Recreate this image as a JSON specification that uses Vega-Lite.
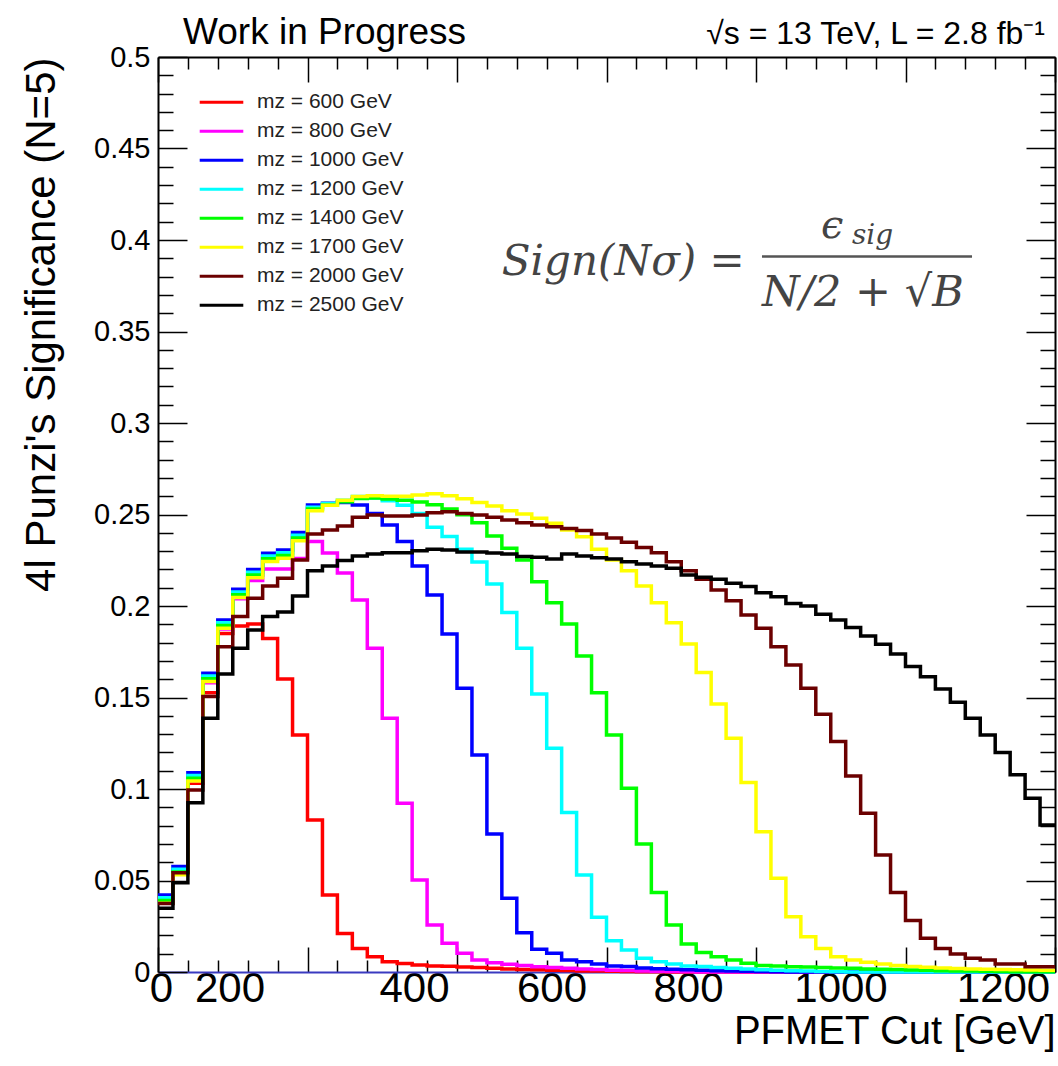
{
  "$schema": "https://vega.github.io/schema/vega-lite/v6.json",
  "width": 897,
  "height": 915,
  "autosize": {"type": "none"},
  "padding": {"left": 158, "top": 57, "right": 3, "bottom": 94},
  "background": "white",
  "config": {"view": {"stroke": null}, "font": "Liberation Sans"},
  "datasets": {
    "hist": [
      {"x": 0, "600": 0.0384, "800": 0.0395, "1000": 0.0421, "1200": 0.0406, "1400": 0.0391, "1700": 0.0376, "2000": 0.0375, "2500": 0.0348},
      {"x": 20, "600": 0.0548, "800": 0.0552, "1000": 0.0576, "1200": 0.0561, "1400": 0.0546, "1700": 0.0531, "2000": 0.0543, "2500": 0.0488},
      {"x": 40, "600": 0.1031, "800": 0.1045, "1000": 0.1089, "1200": 0.1074, "1400": 0.1059, "1700": 0.1044, "2000": 0.0995, "2500": 0.0925},
      {"x": 60, "600": 0.1526, "800": 0.1580, "1000": 0.1632, "1200": 0.1617, "1400": 0.1602, "1700": 0.1587, "2000": 0.1505, "2500": 0.1386},
      {"x": 80, "600": 0.1850, "800": 0.1875, "1000": 0.1923, "1200": 0.1908, "1400": 0.1893, "1700": 0.1878, "2000": 0.1778, "2500": 0.1628},
      {"x": 100, "600": 0.1891, "800": 0.2040, "1000": 0.2091, "1200": 0.2076, "1400": 0.2061, "1700": 0.2046, "2000": 0.1942, "2500": 0.1769},
      {"x": 120, "600": 0.1902, "800": 0.2140, "1000": 0.2200, "1200": 0.2185, "1400": 0.2170, "1700": 0.2155, "2000": 0.2042, "2500": 0.1869},
      {"x": 140, "600": 0.1823, "800": 0.2202, "1000": 0.2288, "1200": 0.2273, "1400": 0.2258, "1700": 0.2243, "2000": 0.2109, "2500": 0.1942},
      {"x": 160, "600": 0.1601, "800": 0.2202, "1000": 0.2306, "1200": 0.2291, "1400": 0.2276, "1700": 0.2261, "2000": 0.2151, "2500": 0.1967},
      {"x": 180, "600": 0.1295, "800": 0.2260, "1000": 0.2401, "1200": 0.2386, "1400": 0.2371, "1700": 0.2356, "2000": 0.2251, "2500": 0.2055},
      {"x": 200, "600": 0.0831, "800": 0.2352, "1000": 0.2552, "1200": 0.2540, "1400": 0.2530, "1700": 0.2520, "2000": 0.2393, "2500": 0.2193},
      {"x": 220, "600": 0.0421, "800": 0.2290, "1000": 0.2561, "1200": 0.2560, "1400": 0.2552, "1700": 0.2550, "2000": 0.2415, "2500": 0.2219},
      {"x": 240, "600": 0.0211, "800": 0.2180, "1000": 0.2565, "1200": 0.2578, "1400": 0.2570, "1700": 0.2578, "2000": 0.2437, "2500": 0.2248},
      {"x": 260, "600": 0.0129, "800": 0.2033, "1000": 0.2552, "1200": 0.2598, "1400": 0.2588, "1700": 0.2598, "2000": 0.2485, "2500": 0.2273},
      {"x": 280, "600": 0.0084, "800": 0.1769, "1000": 0.2506, "1200": 0.2590, "1400": 0.2590, "1700": 0.2602, "2000": 0.2497, "2500": 0.2284},
      {"x": 300, "600": 0.0056, "800": 0.1386, "1000": 0.2443, "1200": 0.2575, "1400": 0.2585, "1700": 0.2600, "2000": 0.2492, "2500": 0.2291},
      {"x": 320, "600": 0.0047, "800": 0.0922, "1000": 0.2352, "1200": 0.2550, "1400": 0.2578, "1700": 0.2600, "2000": 0.2492, "2500": 0.2291},
      {"x": 340, "600": 0.0038, "800": 0.0503, "1000": 0.2219, "1200": 0.2505, "1400": 0.2568, "1700": 0.2606, "2000": 0.2497, "2500": 0.2302},
      {"x": 360, "600": 0.0033, "800": 0.0257, "1000": 0.2060, "1200": 0.2430, "1400": 0.2553, "1700": 0.2614, "2000": 0.2510, "2500": 0.2310},
      {"x": 380, "600": 0.0031, "800": 0.0157, "1000": 0.1847, "1200": 0.2380, "1400": 0.2530, "1700": 0.2602, "2000": 0.2515, "2500": 0.2306},
      {"x": 400, "600": 0.0028, "800": 0.0102, "1000": 0.1550, "1200": 0.2310, "1400": 0.2498, "1700": 0.2586, "2000": 0.2506, "2500": 0.2295},
      {"x": 420, "600": 0.0024, "800": 0.0066, "1000": 0.1186, "1200": 0.2240, "1400": 0.2455, "1700": 0.2566, "2000": 0.2497, "2500": 0.2295},
      {"x": 440, "600": 0.0020, "800": 0.0051, "1000": 0.0754, "1200": 0.2120, "1400": 0.2383, "1700": 0.2546, "2000": 0.2485, "2500": 0.2290},
      {"x": 460, "600": 0.0017, "800": 0.0042, "1000": 0.0403, "1200": 0.1964, "1400": 0.2315, "1700": 0.2521, "2000": 0.2470, "2500": 0.2284},
      {"x": 480, "600": 0.0014, "800": 0.0035, "1000": 0.0215, "1200": 0.1769, "1400": 0.2251, "1700": 0.2503, "2000": 0.2455, "2500": 0.2270},
      {"x": 500, "600": 0.0012, "800": 0.0029, "1000": 0.0124, "1200": 0.1519, "1400": 0.2133, "1700": 0.2479, "2000": 0.2443, "2500": 0.2266},
      {"x": 520, "600": 0.0010, "800": 0.0024, "1000": 0.0102, "1200": 0.1222, "1400": 0.2018, "1700": 0.2452, "2000": 0.2433, "2500": 0.2257},
      {"x": 540, "600": 0.0008, "800": 0.0020, "1000": 0.0066, "1200": 0.0871, "1400": 0.1902, "1700": 0.2415, "2000": 0.2424, "2500": 0.2284},
      {"x": 560, "600": 0.0006, "800": 0.0016, "1000": 0.0056, "1200": 0.0530, "1400": 0.1727, "1700": 0.2379, "2000": 0.2412, "2500": 0.2273},
      {"x": 580, "600": 0.0005, "800": 0.0013, "1000": 0.0044, "1200": 0.0299, "1400": 0.1526, "1700": 0.2310, "2000": 0.2393, "2500": 0.2264},
      {"x": 600, "600": 0.0004, "800": 0.0010, "1000": 0.0033, "1200": 0.0171, "1400": 0.1295, "1700": 0.2251, "2000": 0.2372, "2500": 0.2257},
      {"x": 620, "600": 0.0003, "800": 0.0008, "1000": 0.0030, "1200": 0.0120, "1400": 0.1004, "1700": 0.2193, "2000": 0.2348, "2500": 0.2242},
      {"x": 640, "600": 0.0002, "800": 0.0006, "1000": 0.0022, "1200": 0.0075, "1400": 0.0699, "1700": 0.2109, "2000": 0.2319, "2500": 0.2229},
      {"x": 660, "600": 0.0001, "800": 0.0004, "1000": 0.0018, "1200": 0.0056, "1400": 0.0434, "1700": 0.2018, "2000": 0.2291, "2500": 0.2219},
      {"x": 680, "600": 0, "800": 0.0003, "1000": 0.0015, "1200": 0.0044, "1400": 0.0257, "1700": 0.1909, "2000": 0.2242, "2500": 0.2206},
      {"x": 700, "600": 0, "800": 0.0002, "1000": 0.0012, "1200": 0.0033, "1400": 0.0153, "1700": 0.1792, "2000": 0.2193, "2500": 0.2170},
      {"x": 720, "600": 0, "800": 0, "1000": 0.0009, "1200": 0.0030, "1400": 0.0106, "1700": 0.1636, "2000": 0.2146, "2500": 0.2157},
      {"x": 740, "600": 0, "800": 0, "1000": 0.0007, "1200": 0.0025, "1400": 0.0084, "1700": 0.1464, "2000": 0.2087, "2500": 0.2146},
      {"x": 760, "600": 0, "800": 0, "1000": 0.0005, "1200": 0.0020, "1400": 0.0066, "1700": 0.1277, "2000": 0.2029, "2500": 0.2124},
      {"x": 780, "600": 0, "800": 0, "1000": 0.0004, "1200": 0.0016, "1400": 0.0048, "1700": 0.1035, "2000": 0.1951, "2500": 0.2106},
      {"x": 800, "600": 0, "800": 0, "1000": 0.0003, "1200": 0.0012, "1400": 0.0036, "1700": 0.0767, "2000": 0.1878, "2500": 0.2073},
      {"x": 820, "600": 0, "800": 0, "1000": 0.0002, "1200": 0.0009, "1400": 0.0033, "1700": 0.0512, "2000": 0.1778, "2500": 0.2051},
      {"x": 840, "600": 0, "800": 0, "1000": 0, "1200": 0.0007, "1400": 0.0029, "1700": 0.0302, "2000": 0.1678, "2500": 0.2014},
      {"x": 860, "600": 0, "800": 0, "1000": 0, "1200": 0.0005, "1400": 0.0027, "1700": 0.0193, "2000": 0.1550, "2500": 0.2000},
      {"x": 880, "600": 0, "800": 0, "1000": 0, "1200": 0.0003, "1400": 0.0025, "1700": 0.0129, "2000": 0.1408, "2500": 0.1955},
      {"x": 900, "600": 0, "800": 0, "1000": 0, "1200": 0.0002, "1400": 0.0022, "1700": 0.0084, "2000": 0.1259, "2500": 0.1923},
      {"x": 920, "600": 0, "800": 0, "1000": 0, "1200": 0, "1400": 0.0020, "1700": 0.0066, "2000": 0.1071, "2500": 0.1882},
      {"x": 940, "600": 0, "800": 0, "1000": 0, "1200": 0, "1400": 0.0017, "1700": 0.0053, "2000": 0.0867, "2500": 0.1836},
      {"x": 960, "600": 0, "800": 0, "1000": 0, "1200": 0, "1400": 0.0015, "1700": 0.0044, "2000": 0.0639, "2500": 0.1791},
      {"x": 980, "600": 0, "800": 0, "1000": 0, "1200": 0, "1400": 0.0013, "1700": 0.0036, "2000": 0.0434, "2500": 0.1738},
      {"x": 1000, "600": 0, "800": 0, "1000": 0, "1200": 0, "1400": 0.0011, "1700": 0.0030, "2000": 0.0281, "2500": 0.1669},
      {"x": 1020, "600": 0, "800": 0, "1000": 0, "1200": 0, "1400": 0.0009, "1700": 0.0026, "2000": 0.0184, "2500": 0.1614},
      {"x": 1040, "600": 0, "800": 0, "1000": 0, "1200": 0, "1400": 0.0007, "1700": 0.0022, "2000": 0.0129, "2500": 0.1546},
      {"x": 1060, "600": 0, "800": 0, "1000": 0, "1200": 0, "1400": 0.0006, "1700": 0.0019, "2000": 0.0098, "2500": 0.1474},
      {"x": 1080, "600": 0, "800": 0, "1000": 0, "1200": 0, "1400": 0.0005, "1700": 0.0017, "2000": 0.0075, "2500": 0.1386},
      {"x": 1100, "600": 0, "800": 0, "1000": 0, "1200": 0, "1400": 0.0004, "1700": 0.0015, "2000": 0.0066, "2500": 0.1295},
      {"x": 1120, "600": 0, "800": 0, "1000": 0, "1200": 0, "1400": 0.0003, "1700": 0.0013, "2000": 0.0044, "2500": 0.1199},
      {"x": 1140, "600": 0, "800": 0, "1000": 0, "1200": 0, "1400": 0.0002, "1700": 0.0012, "2000": 0.0044, "2500": 0.1078},
      {"x": 1160, "600": 0, "800": 0, "1000": 0, "1200": 0, "1400": 0.0002, "1700": 0.0011, "2000": 0.0029, "2500": 0.0949},
      {"x": 1180, "600": 0, "800": 0, "1000": 0, "1200": 0, "1400": 0.0001, "1700": 0.0010, "2000": 0.0029, "2500": 0.0803},
      {"x": 1200, "600": 0, "800": 0, "1000": 0, "1200": 0, "1400": 0.0001, "1700": 0.0010, "2000": 0.0029, "2500": 0.0803}
    ]
  },
  "layer": [
    {
      "data": {"name": "hist"},
      "transform": [{"fold": ["600", "800", "1000", "1200", "1400", "1700", "2000", "2500"], "as": ["mass", "v"]}],
      "mark": {"type": "line", "interpolate": "step-after", "strokeWidth": 3.5, "strokeJoin": "miter", "strokeCap": "butt"},
      "encoding": {
        "x": {"field": "x", "type": "quantitative", "scale": {"domain": [0, 1200], "nice": false, "zero": false},
          "axis": {"orient": "bottom", "values": [0,40,80,120,160,200,240,280,320,360,400,440,480,520,560,600,640,680,720,760,800,840,880,920,960,1000,1040,1080,1120,1160,1200],
            "tickSize": {"condition": {"test": "datum.value % 200 === 0", "value": -25}, "value": -12},
            "tickColor": "black", "tickWidth": 1.5,
            "labelExpr": "datum.value % 200 === 0 ? format(datum.value, 'd') : ''",
            "labelOffset": {"condition": [{"test": "datum.value === 200", "value": -78}, {"test": "datum.value === 400", "value": -43}, {"test": "datum.value === 600", "value": -55}, {"test": "datum.value === 800", "value": -68}, {"test": "datum.value === 1000", "value": -65}, {"test": "datum.value === 1200", "value": -52}], "value": 3},
            "labelFontSize": 42, "labelFont": "Liberation Sans", "labelColor": "black", "labelPadding": 21, "labelFlush": false, "labelOverlap": false, "labelBound": false,
            "domainColor": "#3a3ac0", "domainWidth": 2, "grid": false,
            "title": "PFMET Cut [GeV]", "titleAnchor": "end", "titleFontSize": 40, "titleFontWeight": "normal", "titleFont": "Liberation Sans", "titleColor": "black", "titlePadding": -11}},
        "y": {"field": "v", "type": "quantitative", "scale": {"domain": [0, 0.5], "nice": false, "zero": true},
          "axis": {"orient": "left", "values": [0,0.01,0.02,0.03,0.04,0.05,0.06,0.07,0.08,0.09,0.1,0.11,0.12,0.13,0.14,0.15,0.16,0.17,0.18,0.19,0.2,0.21,0.22,0.23,0.24,0.25,0.26,0.27,0.28,0.29,0.3,0.31,0.32,0.33,0.34,0.35,0.36,0.37,0.38,0.39,0.4,0.41,0.42,0.43,0.44,0.45,0.46,0.47,0.48,0.49,0.5],
            "tickSize": {"condition": {"test": "round(datum.value*100) % 5 === 0", "value": -29}, "value": -15},
            "tickColor": "black", "tickWidth": 1.5,
            "labelExpr": "round(datum.value*100) % 5 === 0 ? format(datum.value, '~g') : ''",
            "labelFontSize": 29, "labelFont": "Liberation Sans", "labelColor": "black", "labelPadding": 37, "labelFlush": false, "labelOverlap": false, "labelBound": false,
            "domainColor": "black", "domainWidth": 2, "grid": false,
            "title": "4l Punzi's Significance (N=5)", "titleAnchor": "end", "titleFontSize": 42, "titleFontWeight": "normal", "titleFont": "Liberation Sans", "titleColor": "black", "titlePadding": 30}},
        "color": {"field": "mass", "type": "nominal",
          "scale": {"domain": ["600", "800", "1000", "1200", "1400", "1700", "2000", "2500"], "range": ["#ff0000", "#ff00ff", "#0000ff", "#00ffff", "#00ff00", "#ffff00", "#6b0000", "#000000"]},
          "legend": {"orient": "none", "legendX": 40, "legendY": 31, "title": null, "symbolType": "stroke", "symbolSize": 1900, "symbolStrokeWidth": 3, "labelFontSize": 21, "labelFont": "Liberation Sans", "labelColor": "#222", "labelOffset": 12, "rowPadding": 0, "clipHeight": 28.3,
            "labelExpr": "'mᴢ = ' + datum.label + ' GeV'"}}
      }
    },
    {
      "data": {"name": "hist"},
      "transform": [{"fold": ["2500"], "as": ["mass", "v"]}],
      "mark": {"type": "line", "strokeOpacity": 0},
      "encoding": {
        "x": {"field": "x", "type": "quantitative",
          "axis": {"orient": "top", "values": [0,40,80,120,160,200,240,280,320,360,400,440,480,520,560,600,640,680,720,760,800,840,880,920,960,1000,1040,1080,1120,1160,1200],
            "tickSize": {"condition": {"test": "datum.value % 200 === 0", "value": -25}, "value": -12},
            "tickColor": "black", "tickWidth": 1.5, "labels": false, "domainColor": "black", "domainWidth": 2, "grid": false, "title": null}},
        "y": {"field": "v", "type": "quantitative",
          "axis": {"orient": "right", "values": [0,0.01,0.02,0.03,0.04,0.05,0.06,0.07,0.08,0.09,0.1,0.11,0.12,0.13,0.14,0.15,0.16,0.17,0.18,0.19,0.2,0.21,0.22,0.23,0.24,0.25,0.26,0.27,0.28,0.29,0.3,0.31,0.32,0.33,0.34,0.35,0.36,0.37,0.38,0.39,0.4,0.41,0.42,0.43,0.44,0.45,0.46,0.47,0.48,0.49,0.5],
            "tickSize": {"condition": {"test": "round(datum.value*100) % 5 === 0", "value": -29}, "value": -15},
            "tickColor": "black", "tickWidth": 1.5, "labels": false, "domainColor": "black", "domainWidth": 2, "grid": false, "title": null}}
      }
    },
    {
      "data": {"values": [{"label": "Work in Progress"}]},
      "mark": {"type": "text", "align": "left", "baseline": "alphabetic", "fontSize": 37, "font": "Liberation Sans", "color": "black", "dx": 25, "dy": -13},
      "encoding": {
        "x": {"datum": 0, "type": "quantitative", "axis": null},
        "y": {"datum": 0.5, "type": "quantitative", "axis": null},
        "text": {"field": "label"}
      }
    },
    {
      "data": {"values": [{"label": "√s = 13 TeV, L = 2.8 fb⁻¹"}]},
      "mark": {"type": "text", "align": "right", "baseline": "alphabetic", "fontSize": 32, "font": "Liberation Sans", "color": "black", "dx": -10, "dy": -13},
      "encoding": {
        "x": {"datum": 1200, "type": "quantitative", "axis": null},
        "y": {"datum": 0.5, "type": "quantitative", "axis": null},
        "text": {"field": "label"}
      }
    },
    {
      "data": {"values": [{"part": "Sign(Nσ) ="}]},
      "mark": {"type": "text", "align": "left", "baseline": "middle", "fontSize": 42, "font": "DejaVu Serif", "fontStyle": "italic", "color": "#444"},
      "encoding": {
        "x": {"datum": 460, "type": "quantitative", "axis": null},
        "y": {"datum": 0.388, "type": "quantitative", "axis": null},
        "text": {"field": "part"}
      }
    },
    {
      "data": {"values": [{"part": "ϵ"}]},
      "mark": {"type": "text", "align": "center", "baseline": "middle", "fontSize": 40, "font": "DejaVu Serif", "fontStyle": "italic", "color": "#444"},
      "encoding": {
        "x": {"datum": 902, "type": "quantitative", "axis": null},
        "y": {"datum": 0.4075, "type": "quantitative", "axis": null},
        "text": {"field": "part"}
      }
    },
    {
      "data": {"values": [{"part": "sig"}]},
      "mark": {"type": "text", "align": "center", "baseline": "middle", "fontSize": 28, "font": "DejaVu Serif", "fontStyle": "italic", "color": "#444"},
      "encoding": {
        "x": {"datum": 956, "type": "quantitative", "axis": null},
        "y": {"datum": 0.4022, "type": "quantitative", "axis": null},
        "text": {"field": "part"}
      }
    },
    {
      "data": {"values": [{"part": "N/2 + √B"}]},
      "mark": {"type": "text", "align": "center", "baseline": "middle", "fontSize": 43, "font": "DejaVu Serif", "fontStyle": "italic", "color": "#444"},
      "encoding": {
        "x": {"datum": 943, "type": "quantitative", "axis": null},
        "y": {"datum": 0.371, "type": "quantitative", "axis": null},
        "text": {"field": "part"}
      }
    },
    {
      "data": {"values": [{"part": "bar"}]},
      "mark": {"type": "rule", "strokeWidth": 2.5, "color": "#555"},
      "encoding": {
        "x": {"datum": 808, "type": "quantitative", "axis": null},
        "x2": {"datum": 1089},
        "y": {"datum": 0.391, "type": "quantitative", "axis": null}
      }
    }
  ],
  "resolve": {"axis": {"x": "independent", "y": "independent"}}
}
